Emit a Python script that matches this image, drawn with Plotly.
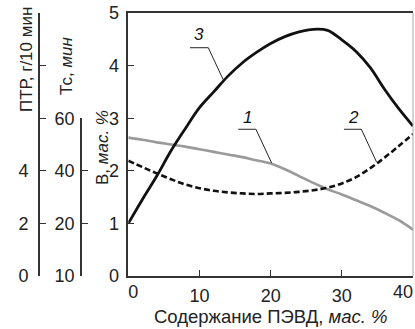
import plotly.graph_objects as go

# ---- data ----
content = [0, 2, 4, 6, 8, 10, 12, 14, 16, 18, 20, 22, 24, 26, 28, 30, 32, 34, 36, 38, 40]
curve1 = [2.63, 2.59, 2.54, 2.50, 2.46, 2.41, 2.36, 2.31, 2.26, 2.20, 2.14, 2.03, 1.90, 1.77, 1.65, 1.55, 1.44, 1.33, 1.20, 1.06, 0.88]
curve2 = [2.19, 2.07, 1.95, 1.84, 1.74, 1.67, 1.62, 1.59, 1.57, 1.56, 1.57, 1.58, 1.60, 1.63, 1.68, 1.76, 1.88, 2.05, 2.25, 2.47, 2.70]
curve3 = [1.00, 1.46, 1.90, 2.38, 2.80, 3.20, 3.50, 3.80, 4.05, 4.25, 4.42, 4.55, 4.64, 4.69, 4.67, 4.49, 4.27, 3.96, 3.55, 3.18, 2.85]

x_ticks = [10, 20, 30]
main_ticks = [0, 1, 2, 3, 4, 5]
tc_tickvals = [0, 1, 2, 3]
tc_ticktext = ["10", "20", "40", "60"]
ptr_tickvals = [0, 1, 2, 3, 4, 5]
ptr_ticktext = ["0", "2", "4", " ", " ", " "]

# curve labels: text position, underline start/end, leader end on curve
label_text = ["1", "2", "3"]
label_x = [16.8, 31.7, 10.0]
label_y = [3.02, 3.02, 4.60]
underline_x0 = [15.45, 30.3, 8.68]
underline_x1 = [17.93, 32.74, 11.24]
underline_y = [2.79, 2.79, 4.34]
leader_end_x = [20.14, 34.87, 13.34]
leader_end_y = [2.15, 2.17, 3.73]

FONT = "Liberation Sans, Arial, Helvetica, sans-serif"
AXC = "#333333"
W, H = 415, 329
ML, MR, MT, MB = 0, 2, 13, 53
PW = W - ML - MR
PH = H - MT - MB
x0_px = 128.3

fig = go.Figure()
fig.add_trace(go.Scatter(x=content, y=curve1, mode="lines", line=dict(color="#9a9a9a", width=2.6, shape="spline"), showlegend=False))
fig.add_trace(go.Scatter(x=content, y=curve2, mode="lines", line=dict(color="#111111", width=2.6, shape="spline", dash="6px,3px"), showlegend=False))
fig.add_trace(go.Scatter(x=content, y=curve3, mode="lines", line=dict(color="#111111", width=2.8, shape="spline"), showlegend=False))

for i in range(len(label_text)):
    fig.add_trace(go.Scatter(
        x=[underline_x0[i], underline_x1[i], leader_end_x[i]],
        y=[underline_y[i], underline_y[i], leader_end_y[i]],
        mode="lines", line=dict(color="#222222", width=1), showlegend=False, hoverinfo="skip"))
    fig.add_annotation(x=label_x[i], y=label_y[i], xref="x", yref="y", text="<i>%s</i>" % label_text[i],
                       showarrow=False, font=dict(family=FONT, size=17, color="#111111"))

# dummy traces to activate extra axes
fig.add_trace(go.Scatter(x=[None], y=[None], xaxis="x", yaxis="y2", showlegend=False, hoverinfo="skip"))
fig.add_trace(go.Scatter(x=[None], y=[None], xaxis="x", yaxis="y3", showlegend=False, hoverinfo="skip"))
fig.add_trace(go.Scatter(x=[None], y=[None], xaxis="x3", yaxis="y", showlegend=False, hoverinfo="skip"))
fig.add_trace(go.Scatter(x=[None], y=[None], xaxis="x4", yaxis="y", showlegend=False, hoverinfo="skip"))

dom0 = x0_px / PW
tickfont = dict(family=FONT, size=18, color="#222222")

common_x = dict(range=[0, 40], domain=[dom0, 1], showgrid=False, zeroline=False, tickfont=tickfont)
free_y = dict(anchor="free", side="left", ticks="inside", ticklen=6, tickwidth=1.4, tickcolor=AXC,
              showline=True, linecolor=AXC, linewidth=1.6, showgrid=False, zeroline=False, tickfont=tickfont)
fig.update_layout(
    width=W, height=H,
    margin=dict(l=ML, r=MR, t=MT, b=MB),
    plot_bgcolor="rgba(0,0,0,0)", paper_bgcolor="white",
    xaxis=dict(**common_x, tickvals=x_ticks, ticks="inside", ticklen=6, tickwidth=1.4, tickcolor=AXC,
               showline=True, linecolor=AXC, linewidth=1.6, mirror=True, ticklabelstandoff=3),
    xaxis3=dict(**common_x, overlaying="x", anchor="y", tickvals=[0], ticks="", showline=False,
                ticklabelposition="outside right", ticklabelstandoff=3),
    xaxis4=dict(**common_x, overlaying="x", anchor="y", tickvals=[40], ticks="", showline=False,
                ticklabelposition="outside left", ticklabelstandoff=3),
    yaxis=dict(range=[0, 5], domain=[0, 1], tickvals=main_ticks, ticks="inside", ticklen=6, tickwidth=1.4, tickcolor=AXC,
               showline=True, linecolor=AXC, linewidth=1.6, showgrid=False, zeroline=False,
               tickfont=tickfont, ticklabelstandoff=4),
    yaxis2=dict(**free_y, range=[0, 3], domain=[0, 0.6], position=81 / PW,
                tickvals=tc_tickvals, ticktext=tc_ticktext, ticklabelstandoff=2),
    yaxis3=dict(**free_y, range=[0, 5], domain=[0, 1], position=39 / PW,
                tickvals=ptr_tickvals, ticktext=ptr_ticktext, ticklabelstandoff=6),
)

# right border (lighter)
fig.add_shape(type="line", xref="paper", yref="paper", x0=1, x1=1, y0=0, y1=1,
              line=dict(color="#aaaaaa", width=1))

def py(p):
    return (H - MB - p) / PH

def px(p):
    return p / PW

fig.add_annotation(x=px(27), y=py(60), xref="paper", yref="paper", text="ПТР, г/10 мин", textangle=-90,
                   showarrow=False, font=dict(family=FONT, size=17, color="#222222"), xanchor="center", yanchor="middle")
fig.add_annotation(x=px(67), y=py(66), xref="paper", yref="paper", text="Тс, <i>мин</i>", textangle=-90,
                   showarrow=False, font=dict(family=FONT, size=17, color="#222222"), xanchor="center", yanchor="middle")
fig.add_annotation(x=px(102), y=py(148), xref="paper", yref="paper", text="В, <i>мас. %</i>", textangle=-90,
                   showarrow=False, font=dict(family=FONT, size=17, color="#222222"), xanchor="center", yanchor="middle")
fig.add_annotation(x=px(271), y=py(316), xref="paper", yref="paper", text="Содержание ПЭВД, <i>мас. %</i>",
                   showarrow=False, font=dict(family=FONT, size=18.5, color="#222222"), xanchor="center", yanchor="middle")

fig.write_html("out.html")
